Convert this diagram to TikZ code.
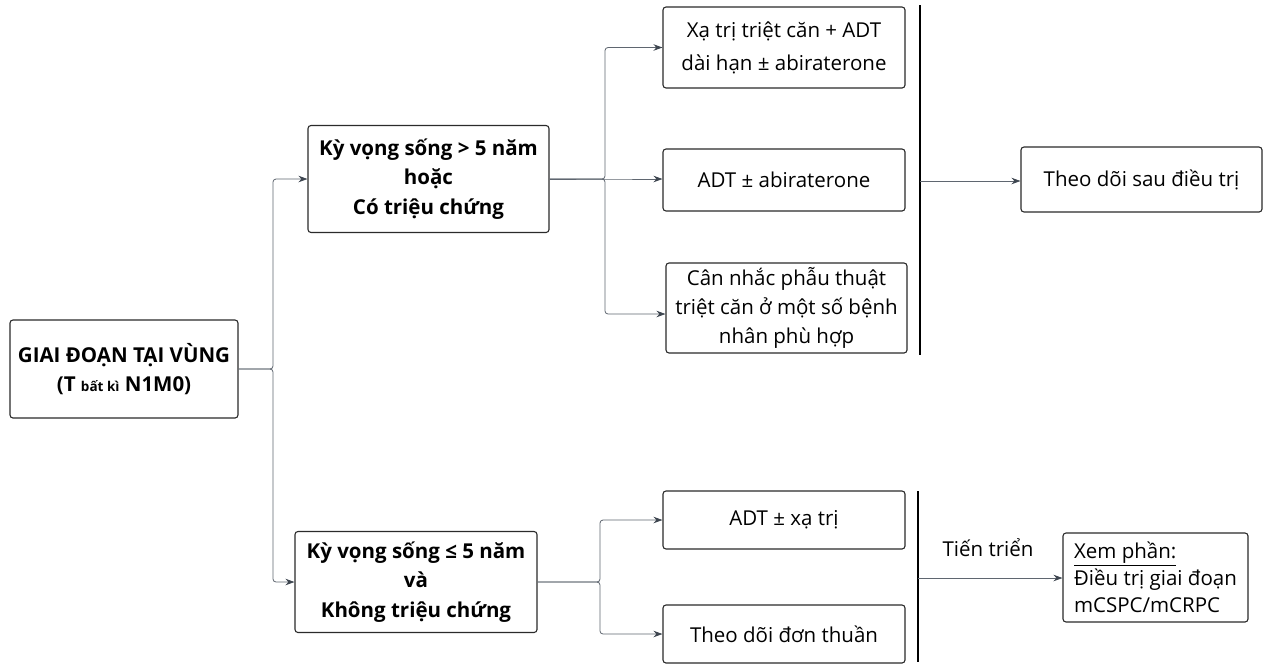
\documentclass[tikz,border=0pt]{standalone}
\usepackage{fontspec}
\setmainfont{Open Sans}
\usetikzlibrary{arrows.meta}
\definecolor{conn}{HTML}{5F6670}
\definecolor{tipc}{HTML}{3E4650}
\definecolor{boxc}{HTML}{2B2B2B}
\tikzset{
  box/.style={draw=boxc, line width=1.1pt, rounded corners=3pt, align=center, inner sep=2pt,
    font=\fontsize{20.5}{29}\selectfont},
  bbox/.style={box, font=\fontsize{20.5}{29.5}\selectfont\bfseries},
  link/.style={draw=conn, line width=0.8pt, rounded corners=3pt},
  arr/.style={link, -{Stealth[length=9pt,width=6.5pt,fill=tipc,color=tipc]}},
  bar/.style={draw=black, line width=1.2pt},
}
\begin{document}
\begin{tikzpicture}[x=1pt,y=-1pt]
\useasboundingbox (0,0) rectangle (1269,665);
\fill[white] (0,0) rectangle (1269,665);
\node[bbox, minimum width=228pt, minimum height=98pt] (root) at (124,369)
  {GIAI ĐOẠN TẠI VÙNG\\(T {\fontsize{13.5}{13.5}\selectfont bất kì} N1M0)};
\node[bbox, minimum width=241pt, minimum height=107pt] (A) at (428.5,179)
  {Kỳ vọng sống > 5 năm\\hoặc\\Có triệu chứng};
\node[bbox, minimum width=242pt, minimum height=101pt] (B) at (416,582)
  {Kỳ vọng sống ≤ 5 năm\\và\\Không triệu chứng};
\node[box, minimum width=242pt, minimum height=81pt, font=\fontsize{20.5}{33}\selectfont] (r1) at (784,47.5)
  {Xạ trị triệt căn + ADT\\dài hạn ± abiraterone};
\node[box, minimum width=242pt, minimum height=62pt] (r2) at (784,180)
  {ADT ± abiraterone};
\node[box, minimum width=241pt, minimum height=90pt] (r3) at (786.5,308)
  {Cân nhắc phẫu thuật\\triệt căn ở một số bệnh\\nhân phù hợp};
\node[box, minimum width=241pt, minimum height=65pt] (f) at (1141.5,179.5)
  {Theo dõi sau điều trị};
\node[box, minimum width=242pt, minimum height=58pt] (s1) at (784,520)
  {ADT ± xạ trị};
\node[box, minimum width=242pt, minimum height=58pt] (s2) at (784,634)
  {Theo dõi đơn thuần};
\node[box, minimum width=185pt, minimum height=89pt, align=left, font=\fontsize{20.5}{27}\selectfont] (x) at (1155.5,577.5)
  {\underline{Xem phần:}\\Điều trị giai đoạn\\mCSPC/mCRPC};
\node[font=\fontsize{20.5}{24}\selectfont] (tt) at (988,548) {Tiến triển};
% bars
\draw[bar] (920,5) -- (920,355);
\draw[bar] (918,491) -- (918,662);
\coordinate (b1) at (920,181);
\coordinate (b2) at (918,578);
% junctions
\coordinate (j0) at (273,369);
\coordinate (j1) at (605,179);
\coordinate (j2) at (600,582);
% connectors
\draw[arr] (root.east) -- (j0) |- (A.west);
\draw[arr] (root.east) -- (j0) |- (B.west);
\draw[arr] (A.east) -- (j1) |- (r1.west);
\draw[arr] (A.east) -- (j1) -- (r2.west |- j1);
\draw[arr] (A.east) -- (j1) |- ([yshift=-6pt]r3.west);
\draw[arr] (B.east) -- (j2) |- (s1.west);
\draw[arr] (B.east) -- (j2) |- (s2.west);
\draw[arr] (b1) -- (f.west |- b1);
\draw[arr] (b2) -- (x.west |- b2);
\end{tikzpicture}
\end{document}
